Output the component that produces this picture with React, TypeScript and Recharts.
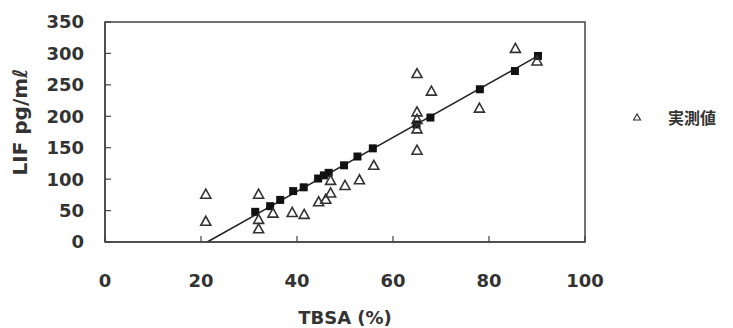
import {
  ScatterChart,
  Scatter,
  XAxis,
  YAxis,
  ReferenceLine,
  ReferenceArea,
  Legend,
  Label,
} from 'recharts';

const measuredX = [21, 21, 32, 32, 32, 35, 39, 41.5, 44.5, 46, 47, 47, 50, 53, 56, 65, 65, 65, 65, 65, 68, 78, 85.5, 90];
const measuredY = [76, 33, 76, 36, 21, 46, 47, 44, 64, 68, 78, 98, 90, 99, 122, 268, 207, 195, 180, 146, 240, 213, 308, 288];

// predicted values (filled squares)
const predictedX = [31.3, 34.4, 36.5, 39.2, 41.4, 44.4, 45.6, 46.6, 49.8, 52.6, 55.8, 64.9, 67.8, 78.1, 85.4, 90.2];
const predictedY = [48, 57, 67, 81, 87, 101, 106, 110, 122, 136, 149, 187, 198, 243, 272, 296];

// regression line end points
const fitX = [21.3, 90.2];
const fitY = [0, 296];

const xTicks = [0, 20, 40, 60, 80, 100];
const yTicks = [0, 50, 100, 150, 200, 250, 300, 350];

const measured = measuredX.map((x, i) => ({ x, y: measuredY[i] }));
const predicted = predictedX.map((x, i) => ({ x, y: predictedY[i] }));
const fitSegment = fitX.map((x, i) => ({ x, y: fitY[i] }));

const INK = '#333';
const tickFont = { fill: INK, fontSize: 18, fontWeight: 700, fontFamily: 'DejaVu Sans' };

function Triangle({ cx, cy }: { cx?: number; cy?: number }) {
  if (cx == null || cy == null) return null;
  return (
    <polygon
      points={`${cx},${cy - 5} ${cx - 5},${cy + 4} ${cx + 5},${cy + 4}`}
      fill="none"
      stroke={INK}
      strokeWidth={1.6}
    />
  );
}

function Square({ cx, cy }: { cx?: number; cy?: number }) {
  if (cx == null || cy == null) return null;
  return <rect x={cx - 4} y={cy - 4} width={8} height={8} fill="#111" />;
}

function LegendBox() {
  return (
    <svg width={100} height={24}>
      <polygon points="4,8 0.5,14 7.5,14" fill="none" stroke={INK} strokeWidth={1.2} />
      <text
        x={35}
        y={18}
        fill={INK}
        fontSize={16}
        fontWeight={700}
        fontFamily="'Noto Sans CJK JP'"
      >
        実測値
      </text>
    </svg>
  );
}

function YTitle({ viewBox }: { viewBox?: { x: number; y: number; width: number; height: number } }) {
  if (!viewBox) return null;
  const x = viewBox.x - 35;
  const y = viewBox.y + viewBox.height / 2 - 10;
  return (
    <text
      x={x}
      y={y}
      transform={`rotate(-90, ${x}, ${y})`}
      textAnchor="middle"
      dominantBaseline="central"
      fill={INK}
      fontSize={20}
      fontWeight={700}
      fontFamily="DejaVu Sans"
    >
      LIF pg/mℓ
    </text>
  );
}

export default function App() {
  return (
    <ScatterChart
      width={725}
      height={320}
      margin={{ top: 14, right: 148, bottom: 26, left: 47 }}
      style={{ background: '#fff' }}
    >
      <XAxis
        type="number"
        dataKey="x"
        domain={[0, 100]}
        ticks={xTicks}
        height={60}
        tickSize={-6}
        tickMargin={38}
        tick={tickFont}
        axisLine={{ stroke: '#444', strokeWidth: 1.5 }}
        tickLine={{ stroke: '#444', strokeWidth: 1.2 }}
      >
        <Label
          value="TBSA (%)"
          position="bottom"
          offset={9}
          style={{ fill: INK, fontSize: 18, fontWeight: 700, fontFamily: 'DejaVu Sans' }}
        />
      </XAxis>
      <YAxis
        type="number"
        dataKey="y"
        domain={[0, 350]}
        ticks={yTicks}
        width={50}
        tickSize={-6}
        tickMargin={27}
        tick={tickFont}
        axisLine={{ stroke: '#444', strokeWidth: 1.5 }}
        tickLine={{ stroke: '#444', strokeWidth: 1.2 }}
      >
        <Label content={<YTitle />} />
      </YAxis>
      <ReferenceArea
        x1={0}
        x2={100}
        y1={0}
        y2={350}
        fill="none"
        stroke="#444"
        strokeWidth={1.5}
      />
      <ReferenceLine segment={fitSegment} stroke="#222" strokeWidth={1.5} ifOverflow="visible" />
      <Scatter name="予測値" data={predicted} shape={<Square />} isAnimationActive={false} legendType="none" />
      <Scatter name="実測値" data={measured} shape={<Triangle />} isAnimationActive={false} />
      <Legend
        layout="horizontal"
        verticalAlign="middle"
        align="center"
        content={<LegendBox />}
        wrapperStyle={{ position: 'absolute', left: 625, top: 98, width: 100 }}
      />
    </ScatterChart>
  );
}
